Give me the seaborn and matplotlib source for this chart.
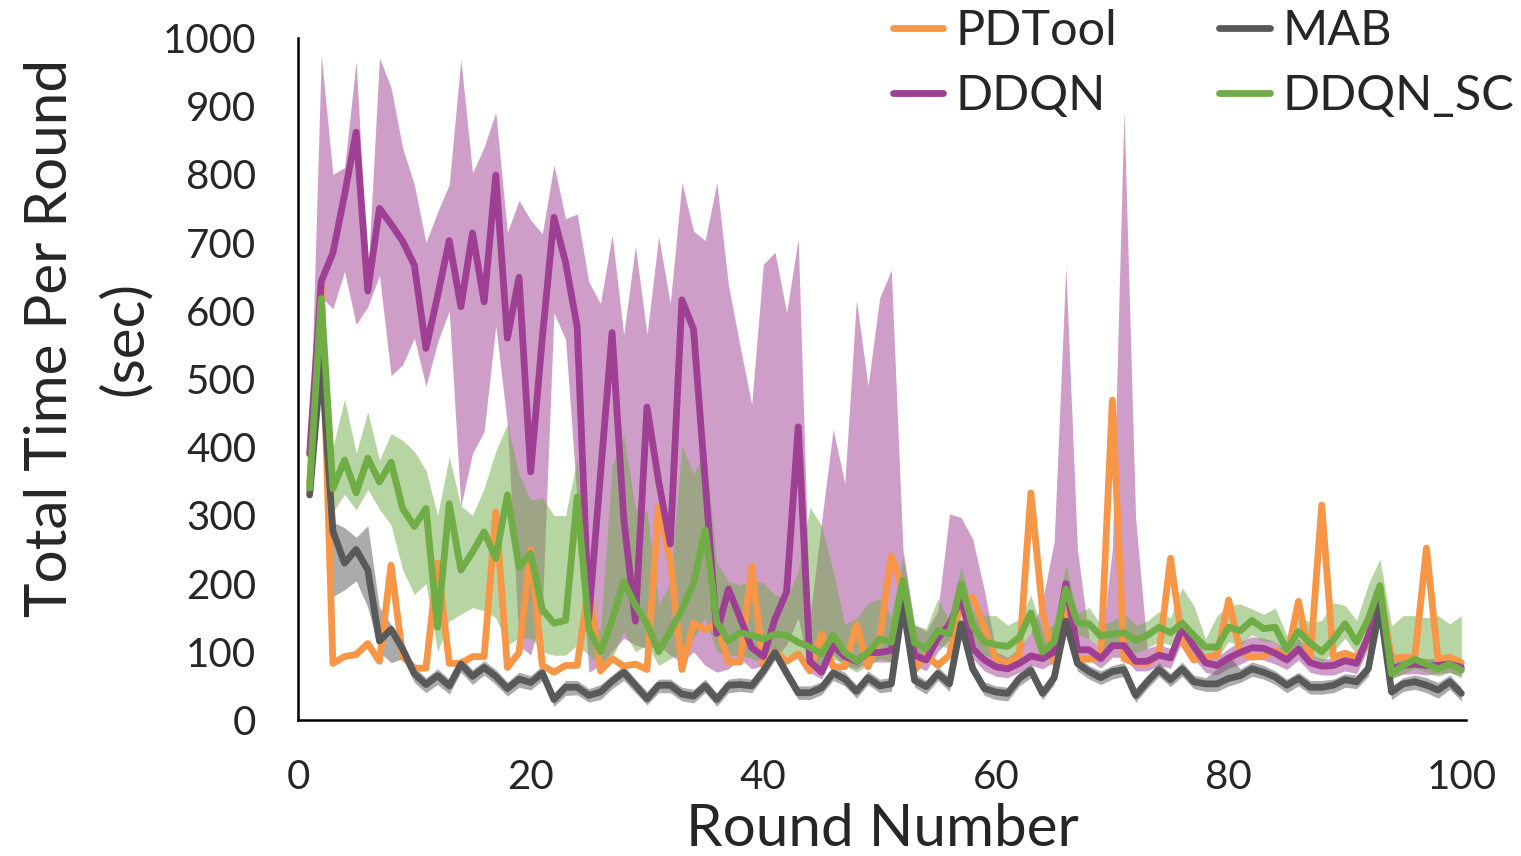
import numpy as np
import pandas as pd
import matplotlib
matplotlib.use("Agg")
import matplotlib.pyplot as plt
import seaborn as sns
from matplotlib.lines import Line2D

# Per-round totals (seconds) for each tuning approach, rounds 1..100
rounds = list(range(1, 101))

pdtool = [345, 640, 83, 93, 96, 112, 86, 227, 93, 76,
          76, 230, 83, 83, 93, 93, 305, 77, 99, 250,
          80, 70, 80, 80, 200, 72, 90, 79, 82, 74,
          313, 234, 74, 142, 132, 141, 85, 85, 225, 80,
          100, 86, 97, 72, 126, 78, 78, 140, 78, 120,
          240, 190, 73, 95, 80, 95, 175, 180, 135, 90,
          83, 95, 333, 160, 85, 180, 89, 89, 93, 469,
          90, 83, 83, 96, 237, 115, 88, 92, 95, 176,
          100, 92, 94, 102, 92, 174, 88, 315, 92, 98,
          92, 114, 190, 90, 92, 92, 252, 88, 92, 84]

ddqn = [390, 643, 685, 770, 862, 629, 750, 727, 702, 667,
        545, 622, 703, 606, 714, 613, 799, 560, 649, 364,
        560, 737, 671, 576, 150, 360, 568, 295, 145, 459,
        350, 258, 616, 573, 350, 127, 192, 150, 106, 93,
        148, 188, 430, 86, 70, 109, 93, 86, 99, 99,
        102, 201, 95, 88, 120, 140, 180, 105, 88, 78,
        75, 83, 94, 90, 100, 200, 103, 103, 90, 109,
        109, 86, 86, 95, 91, 135, 108, 84, 80, 91,
        99, 106, 105, 98, 88, 104, 84, 79, 80, 87,
        83, 123, 175, 75, 80, 82, 80, 80, 82, 77]
ddqn_hi = [400, 975, 800, 810, 966, 650, 971, 927, 838, 785,
           700, 745, 785, 969, 802, 840, 891, 715, 762, 733,
           713, 814, 735, 742, 642, 611, 711, 565, 695, 565,
           709, 611, 788, 717, 703, 788, 638, 548, 463, 668,
           686, 597, 706, 150, 290, 426, 347, 616, 490, 619,
           660, 250, 140, 130, 160, 302, 297, 265, 190, 100,
           92, 105, 129, 175, 262, 664, 250, 120, 105, 250,
           894, 296, 105, 110, 105, 150, 125, 95, 92, 105,
           115, 122, 120, 115, 100, 120, 96, 90, 90, 95,
           92, 135, 190, 85, 90, 92, 90, 90, 92, 88]
ddqn_lo = [380, 620, 603, 658, 580, 606, 652, 505, 521, 560,
           489, 554, 600, 313, 391, 423, 578, 433, 110, 95,
           160, 597, 558, 320, 70, 80, 100, 120, 110, 105,
           110, 95, 85, 100, 80, 70, 75, 90, 75, 80,
           90, 110, 150, 70, 60, 95, 80, 75, 85, 85,
           85, 175, 80, 72, 100, 118, 160, 90, 72, 64,
           62, 70, 80, 75, 85, 180, 88, 88, 76, 92,
           92, 72, 72, 80, 76, 115, 90, 70, 66, 76,
           82, 90, 88, 82, 74, 88, 70, 66, 66, 72,
           68, 105, 160, 62, 67, 68, 66, 68, 70, 64]

mab = [330, 530, 277, 230, 250, 220, 116, 133, 104, 68,
       52, 65, 50, 82, 64, 77, 64, 46, 60, 55,
       69, 30, 48, 48, 36, 41, 57, 70, 51, 31,
       51, 51, 38, 35, 50, 30, 51, 52, 50, 72,
       99, 69, 40, 40, 47, 69, 60, 42, 62, 50,
       53, 170, 58, 49, 68, 53, 141, 75, 46, 41,
       39, 61, 73, 39, 62, 145, 83, 71, 62, 71,
       74, 36, 56, 74, 59, 75, 56, 53, 53, 61,
       65, 75, 70, 63, 51, 61, 48, 48, 51, 59,
       56, 75, 167, 41, 53, 56, 51, 44, 56, 39]
mab_hi = [335, 545, 290, 282, 268, 285, 165, 140, 112, 78,
          62, 75, 60, 92, 74, 87, 74, 56, 70, 65,
          80, 40, 58, 58, 46, 52, 66, 80, 60, 42,
          60, 60, 48, 45, 60, 40, 60, 62, 60, 82,
          108, 78, 50, 50, 56, 78, 70, 52, 72, 60,
          62, 180, 68, 58, 78, 62, 150, 85, 56, 50,
          48, 70, 82, 48, 72, 155, 92, 80, 72, 80,
          84, 46, 66, 84, 68, 85, 66, 62, 75, 95,
          75, 85, 80, 72, 60, 70, 58, 58, 60, 68,
          66, 85, 200, 50, 62, 66, 62, 55, 66, 48]
mab_lo = [325, 515, 181, 191, 204, 165, 100, 84, 90, 55,
          40, 52, 38, 70, 52, 66, 52, 35, 48, 44,
          58, 20, 36, 37, 26, 30, 46, 58, 40, 22,
          40, 40, 28, 25, 40, 20, 40, 42, 40, 62,
          88, 58, 30, 30, 37, 58, 50, 32, 52, 40,
          42, 155, 48, 38, 58, 42, 128, 65, 36, 30,
          28, 50, 62, 30, 52, 132, 72, 60, 52, 60,
          64, 26, 46, 64, 49, 64, 46, 42, 42, 50,
          55, 64, 60, 52, 40, 50, 38, 38, 40, 48,
          46, 64, 140, 30, 42, 45, 40, 32, 45, 28]

ddqn_sc = [340, 618, 339, 381, 333, 384, 349, 378, 310, 284,
           310, 136, 317, 220, 246, 276, 237, 330, 224, 244,
           162, 142, 146, 327, 133, 100, 146, 203, 168, 141,
           100, 130, 162, 200, 279, 143, 116, 128, 124, 119,
           126, 124, 114, 107, 97, 124, 99, 87, 99, 119,
           114, 205, 113, 105, 131, 126, 200, 137, 115, 110,
           108, 121, 157, 100, 115, 192, 143, 141, 123, 126,
           128, 117, 124, 136, 128, 142, 124, 107, 107, 136,
           131, 146, 134, 136, 103, 130, 113, 100, 118, 141,
           114, 148, 197, 68, 80, 89, 82, 75, 82, 73]
ddqn_sc_hi = [350, 660, 400, 471, 391, 452, 381, 420, 410, 394,
              366, 300, 386, 314, 300, 340, 394, 434, 360, 322,
              326, 300, 300, 384, 160, 130, 373, 418, 311, 306,
              170, 200, 403, 360, 397, 230, 203, 198, 203, 201,
              183, 178, 218, 312, 285, 218, 141, 149, 171, 178,
              153, 241, 139, 134, 178, 144, 226, 160, 153, 153,
              139, 148, 183, 130, 140, 227, 156, 165, 140, 145,
              156, 139, 145, 159, 150, 194, 168, 119, 153, 168,
              170, 163, 155, 164, 124, 153, 143, 146, 172, 168,
              146, 199, 236, 138, 153, 153, 150, 153, 141, 153]
ddqn_sc_lo = [330, 560, 305, 331, 308, 338, 309, 286, 220, 184,
              200, 100, 145, 155, 165, 160, 150, 110, 120, 120,
              100, 95, 95, 110, 95, 80, 90, 130, 100, 110,
              80, 90, 100, 120, 150, 100, 95, 95, 90, 85,
              90, 95, 90, 80, 75, 90, 80, 70, 80, 90,
              85, 165, 90, 88, 110, 105, 170, 115, 95, 90,
              88, 100, 130, 85, 95, 160, 125, 120, 105, 108,
              110, 98, 105, 115, 110, 121, 107, 92, 90, 115,
              110, 125, 115, 115, 88, 110, 95, 85, 100, 120,
              95, 125, 180, 60, 68, 76, 70, 64, 70, 62]

y_ticks = [0, 100, 200, 300, 400, 500, 600, 700, 800, 900, 1000]
x_ticks = [0, 20, 40, 60, 80, 100]

colors = {
    "PDTool": "#F79646",
    "DDQN": "#9E3F94",
    "MAB": "#595959",
    "DDQN_SC": "#70AD47",
}

sns.set_style("white")
plt.rcParams["font.family"] = ["Lato", "DejaVu Sans"]

fig = plt.figure(figsize=(15.21, 8.56), dpi=100)
ax = fig.add_axes([298 / 1521, 1 - 720 / 856, 1168 / 1521, 682 / 856])

df = pd.DataFrame({
    "round": rounds * 4,
    "time": pdtool + ddqn + mab + ddqn_sc,
    "method": (["PDTool"] * 100 + ["DDQN"] * 100 + ["MAB"] * 100 + ["DDQN_SC"] * 100),
})

# Shaded spread bands
ax.fill_between(rounds, ddqn_lo, ddqn_hi, color=colors["DDQN"], alpha=0.5, lw=0, zorder=1)
ax.fill_between(rounds, ddqn_sc_lo, ddqn_sc_hi, color=colors["DDQN_SC"], alpha=0.5, lw=0, zorder=1)
ax.fill_between(rounds, mab_lo, mab_hi, color=colors["MAB"], alpha=0.5, lw=0, zorder=1)

LW = 4.9
for name in ["PDTool", "DDQN", "MAB", "DDQN_SC"]:
    sns.lineplot(data=df[df["method"] == name], x="round", y="time", ax=ax,
                 color=colors[name], lw=LW, legend=False, zorder=3)

ax.set_xlim(0, 100.4)
ax.set_ylim(0, 1000)
ax.set_xticks(x_ticks)
ax.set_yticks(y_ticks)
ax.tick_params(axis="both", length=0, labelsize=29)
ax.tick_params(axis="y", pad=30)
ax.tick_params(axis="x", pad=28)

for side in ["top", "right"]:
    ax.spines[side].set_visible(False)
for side in ["left", "bottom"]:
    ax.spines[side].set_color("black")
    ax.spines[side].set_linewidth(1.8)

ax.set_xlabel("Round Number", fontsize=42)
ax.xaxis.set_label_coords(0.5, -0.122)
ax.set_ylabel("Total Time Per Round\n(sec)", fontsize=42, linespacing=1.48)
ax.yaxis.set_label_coords(-0.125, 0.56)

order = ["PDTool", "DDQN", "MAB", "DDQN_SC"]
handles = [Line2D([0], [0], color=colors[n], lw=LW) for n in order]
fig.legend(handles, order, loc="upper left", bbox_to_anchor=(0.587, 0.99),
           ncol=2, frameon=False, fontsize=35, handlelength=1.04,
           handletextpad=0.25, columnspacing=2.1, labelspacing=0.45,
           borderaxespad=0, borderpad=0)

fig.savefig("out.png", dpi=100, facecolor="white")
